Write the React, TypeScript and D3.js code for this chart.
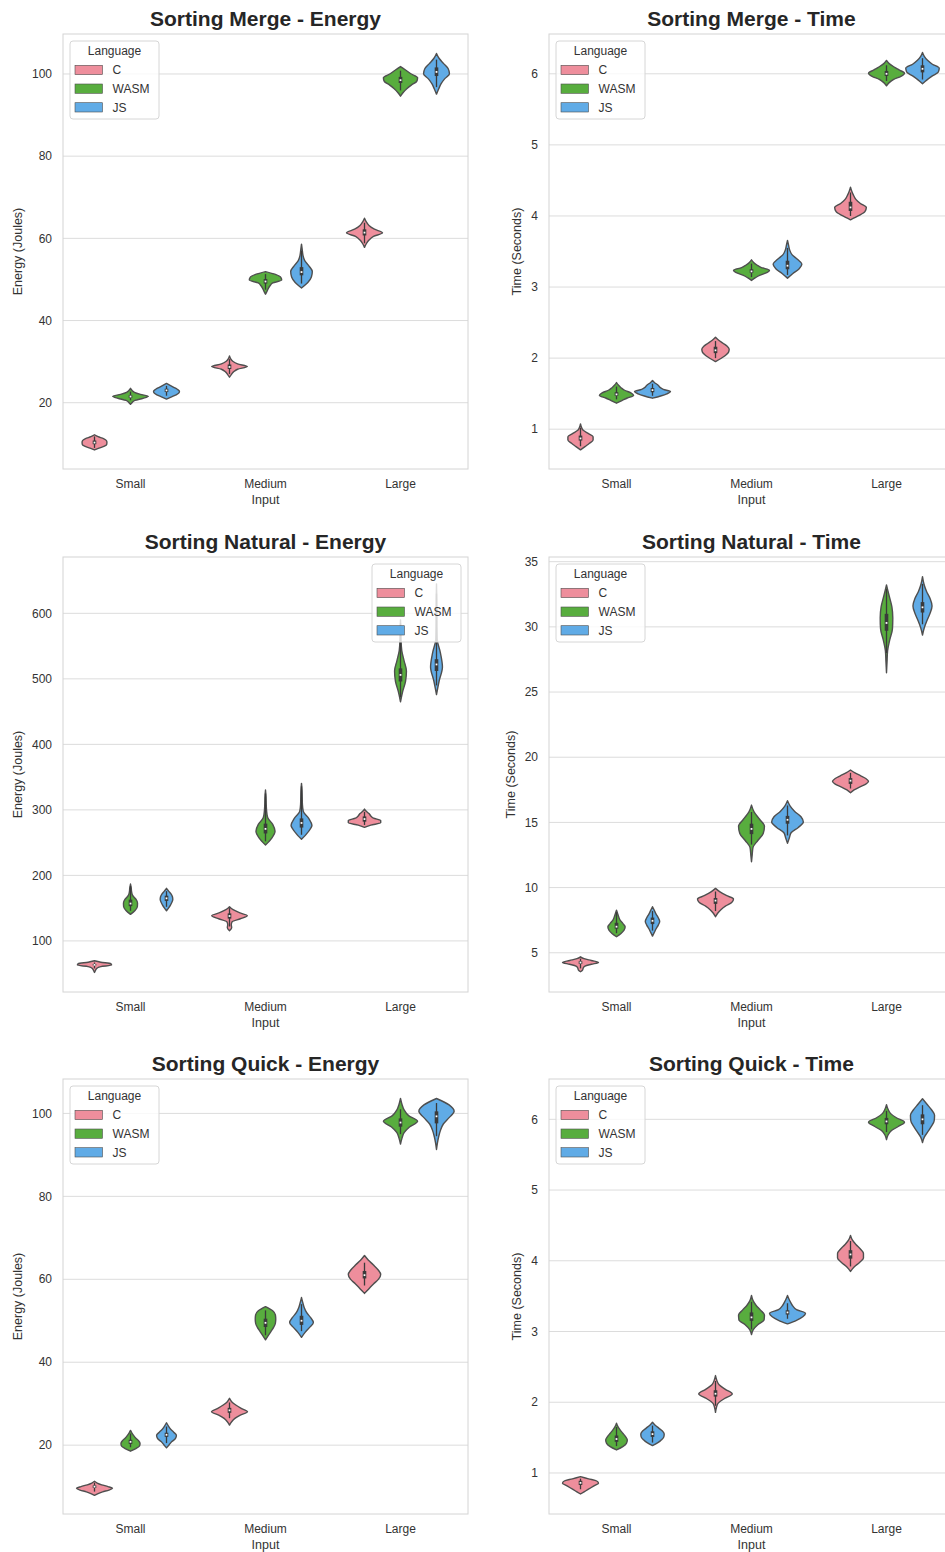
import React from "react";
import * as d3 from "d3";

type Violin = { input: string; lang: string; lo: number; hi: number; box: number[]; w: number[] };

const INPUTS = ["Small", "Medium", "Large"];
const LANGUAGES = ["C", "WASM", "JS"];
const COLORS: Record<string, string> = { C: "#ee8e9c", WASM: "#58ad3e", JS: "#60abe6" };

// box = [whisker low, q1, median, q3, whisker high]; w = relative half-widths, evenly spaced from lo to hi
const v = (input: string, lang: string, lo: number, hi: number, box: number[], w: number[]): Violin => ({ input, lang, lo, hi, box, w });

const mergeEnergy: Violin[] = [
  v("Small", "C", 8.5, 12.2, [9.0, 9.9, 10.3, 10.8, 11.8], [0, 0.25, 0.55, 0.68, 0.69, 0.66, 0.5, 0.2, 0]),
  v("Small", "WASM", 19.6, 23.5, [20.6, 21.2, 21.5, 21.8, 22.7], [0, 0.1, 0.25, 0.7, 0.99, 0.55, 0.22, 0.08, 0]),
  v("Small", "JS", 20.9, 24.7, [21.7, 22.6, 23.0, 23.4, 24.1], [0, 0.25, 0.5, 0.68, 0.72, 0.6, 0.4, 0.2, 0]),
  v("Medium", "C", 26.2, 31.4, [27.0, 28.2, 28.7, 29.3, 30.6], [0, 0.1, 0.22, 0.45, 0.99, 0.45, 0.18, 0.06, 0]),
  v("Medium", "WASM", 46.4, 51.9, [47.5, 49.0, 49.5, 50.1, 51.3], [0, 0.08, 0.15, 0.25, 0.4, 0.9, 0.85, 0.55, 0]),
  v("Medium", "JS", 47.9, 58.6, [49.0, 51.0, 51.8, 53.0, 57.0], [0, 0.35, 0.55, 0.6, 0.42, 0.18, 0.08, 0.04, 0]),
  v("Large", "C", 57.8, 64.9, [58.8, 60.7, 61.4, 62.2, 63.8], [0, 0.1, 0.25, 0.5, 1.0, 0.55, 0.25, 0.1, 0]),
  v("Large", "WASM", 94.6, 101.8, [96.0, 97.8, 98.5, 99.3, 100.8], [0, 0.15, 0.35, 0.6, 0.9, 0.95, 0.6, 0.3, 0]),
  v("Large", "JS", 95.1, 105.0, [96.8, 99.5, 100.5, 101.6, 103.5], [0, 0.12, 0.25, 0.45, 0.72, 0.65, 0.4, 0.15, 0]),
];

const mergeTime: Violin[] = [
  v("Small", "C", 0.71, 1.075, [0.76, 0.84, 0.87, 0.91, 1.02], [0, 0.25, 0.5, 0.7, 0.7, 0.45, 0.15, 0.05, 0]),
  v("Small", "WASM", 1.366, 1.657, [1.42, 1.47, 1.49, 1.52, 1.6], [0, 0.3, 0.6, 0.95, 0.8, 0.45, 0.25, 0.1, 0]),
  v("Small", "JS", 1.436, 1.685, [1.47, 1.52, 1.55, 1.58, 1.64], [0, 0.45, 0.8, 1.0, 0.6, 0.4, 0.3, 0.12, 0]),
  v("Medium", "C", 1.952, 2.295, [2.0, 2.07, 2.11, 2.16, 2.24], [0, 0.3, 0.55, 0.72, 0.76, 0.65, 0.42, 0.18, 0]),
  v("Medium", "WASM", 3.092, 3.383, [3.14, 3.2, 3.22, 3.25, 3.33], [0, 0.2, 0.45, 0.85, 1.0, 0.55, 0.3, 0.12, 0]),
  v("Medium", "JS", 3.125, 3.655, [3.17, 3.25, 3.3, 3.37, 3.55], [0, 0.3, 0.65, 0.8, 0.55, 0.25, 0.12, 0.06, 0]),
  v("Large", "C", 3.946, 4.405, [4.0, 4.07, 4.12, 4.2, 4.33], [0, 0.45, 0.8, 0.88, 0.55, 0.3, 0.17, 0.07, 0]),
  v("Large", "WASM", 5.831, 6.188, [5.9, 5.97, 6.0, 6.04, 6.12], [0, 0.15, 0.4, 0.8, 1.0, 0.7, 0.4, 0.15, 0]),
  v("Large", "JS", 5.86, 6.3, [5.92, 6.02, 6.07, 6.12, 6.22], [0, 0.25, 0.55, 0.88, 0.93, 0.55, 0.28, 0.1, 0]),
];

const naturalEnergy: Violin[] = [
  v("Small", "C", 51.9, 69.7, [58, 62.5, 63.5, 64.8, 67], [0, 0.04, 0.08, 0.15, 0.35, 0.95, 0.9, 0.35, 0]),
  v("Small", "WASM", 140.5, 186.8, [146, 153, 157, 163, 184], [0, 0.25, 0.38, 0.39, 0.3, 0.12, 0.06, 0.04, 0]),
  v("Small", "JS", 146.1, 180.2, [152, 161, 165, 169, 176], [0, 0.12, 0.22, 0.3, 0.35, 0.33, 0.25, 0.12, 0]),
  v("Medium", "C", 115.5, 152.2, [122, 134, 138, 142, 150], [0, 0.12, 0.1, 0.15, 0.6, 0.99, 0.55, 0.2, 0]),
  v("Medium", "WASM", 246.3, 330.3, [252, 264, 271, 279, 325], [0, 0.35, 0.53, 0.4, 0.12, 0.06, 0.04, 0.03, 0]),
  v("Medium", "JS", 255, 340.5, [262, 273, 280, 287, 336], [0, 0.35, 0.58, 0.4, 0.1, 0.05, 0.04, 0.03, 0]),
  v("Large", "C", 273.3, 301.3, [277, 282, 286, 290, 297], [0, 0.35, 0.9, 0.9, 0.5, 0.35, 0.25, 0.1, 0]),
  v("Large", "WASM", 465, 590, [472, 496, 506, 516, 585], [0, 0.12, 0.28, 0.33, 0.2, 0.07, 0.03, 0.02, 0]),
  v("Large", "JS", 476, 645, [490, 512, 522, 530, 630], [0, 0.15, 0.33, 0.22, 0.04, 0.025, 0.02, 0.015, 0]),
];

const naturalTime: Violin[] = [
  v("Small", "C", 3.54, 4.69, [3.8, 4.15, 4.25, 4.35, 4.55], [0, 0.12, 0.15, 0.25, 0.6, 1.0, 0.6, 0.2, 0]),
  v("Small", "WASM", 6.23, 8.27, [6.5, 6.85, 7.0, 7.3, 8.1], [0, 0.25, 0.42, 0.48, 0.35, 0.2, 0.12, 0.06, 0]),
  v("Small", "JS", 6.28, 8.53, [6.7, 7.2, 7.45, 7.7, 8.2], [0, 0.1, 0.2, 0.32, 0.4, 0.32, 0.2, 0.1, 0]),
  v("Medium", "C", 7.76, 9.94, [8.2, 8.75, 9.0, 9.2, 9.7], [0, 0.12, 0.3, 0.55, 0.9, 1.0, 0.6, 0.25, 0]),
  v("Medium", "WASM", 11.98, 16.33, [13.3, 14.1, 14.5, 14.9, 15.8], [0, 0.04, 0.08, 0.35, 0.65, 0.72, 0.45, 0.15, 0]),
  v("Medium", "JS", 13.39, 16.66, [14.0, 14.9, 15.2, 15.5, 16.3], [0, 0.1, 0.2, 0.6, 0.88, 0.75, 0.4, 0.15, 0]),
  v("Large", "C", 17.28, 19.02, [17.6, 17.95, 18.2, 18.4, 18.8], [0, 0.2, 0.5, 0.85, 1.0, 0.85, 0.55, 0.25, 0]),
  v("Large", "WASM", 26.48, 33.21, [28.0, 29.7, 30.3, 31.0, 32.9], [0, 0.03, 0.06, 0.18, 0.33, 0.35, 0.3, 0.15, 0]),
  v("Large", "JS", 29.37, 33.85, [30.2, 31.1, 31.5, 31.9, 33.3], [0, 0.1, 0.25, 0.42, 0.53, 0.42, 0.22, 0.08, 0]),
];

const quickEnergy: Violin[] = [
  v("Small", "C", 7.9, 11.29, [8.8, 9.7, 10.0, 10.3, 10.9], [0, 0.2, 0.45, 0.8, 1.0, 0.75, 0.4, 0.15, 0]),
  v("Small", "WASM", 18.55, 23.55, [19.5, 20.3, 20.8, 21.3, 22.8], [0, 0.3, 0.5, 0.53, 0.45, 0.3, 0.18, 0.08, 0]),
  v("Small", "JS", 19.35, 25.4, [20.5, 22.0, 22.5, 23.0, 24.5], [0, 0.15, 0.3, 0.5, 0.55, 0.4, 0.22, 0.1, 0]),
  v("Medium", "C", 24.84, 31.3, [26.5, 27.8, 28.4, 29.0, 30.3], [0, 0.12, 0.3, 0.6, 1.0, 0.65, 0.35, 0.12, 0]),
  v("Medium", "WASM", 45.4, 53.4, [46.5, 48.5, 49.5, 50.5, 52.5], [0, 0.15, 0.3, 0.45, 0.55, 0.57, 0.55, 0.4, 0]),
  v("Medium", "JS", 46.0, 55.6, [47.5, 49.0, 50.0, 51.2, 54.0], [0, 0.2, 0.45, 0.66, 0.5, 0.28, 0.15, 0.07, 0]),
  v("Large", "C", 56.6, 65.73, [58.5, 60.2, 61.0, 62.0, 64.0], [0, 0.25, 0.5, 0.78, 0.9, 0.75, 0.5, 0.22, 0]),
  v("Large", "WASM", 92.6, 103.6, [95.0, 96.8, 97.8, 98.8, 101.0], [0, 0.08, 0.2, 0.5, 0.95, 0.45, 0.2, 0.08, 0]),
  v("Large", "JS", 91.3, 103.6, [94.5, 97.6, 99.3, 100.5, 102.5], [0, 0.05, 0.12, 0.22, 0.38, 0.7, 0.98, 0.7, 0]),
];

const quickTime: Violin[] = [
  v("Small", "C", 0.703, 0.948, [0.77, 0.83, 0.86, 0.89, 0.92], [0, 0.2, 0.4, 0.6, 0.8, 1.0, 0.9, 0.45, 0]),
  v("Small", "WASM", 1.325, 1.703, [1.38, 1.44, 1.48, 1.53, 1.65], [0, 0.35, 0.55, 0.6, 0.5, 0.35, 0.2, 0.08, 0]),
  v("Small", "JS", 1.387, 1.717, [1.43, 1.51, 1.55, 1.59, 1.67], [0, 0.3, 0.5, 0.63, 0.65, 0.55, 0.35, 0.15, 0]),
  v("Medium", "C", 1.858, 2.377, [1.95, 2.08, 2.12, 2.17, 2.3], [0, 0.05, 0.15, 0.5, 0.93, 0.55, 0.2, 0.07, 0]),
  v("Medium", "WASM", 2.958, 3.509, [3.03, 3.15, 3.2, 3.27, 3.42], [0, 0.1, 0.35, 0.7, 0.72, 0.5, 0.25, 0.08, 0]),
  v("Medium", "JS", 3.108, 3.509, [3.18, 3.24, 3.27, 3.3, 3.4], [0, 0.5, 0.85, 1.0, 0.5, 0.3, 0.18, 0.08, 0]),
  v("Large", "C", 3.849, 4.358, [3.92, 4.03, 4.09, 4.15, 4.28], [0, 0.2, 0.5, 0.72, 0.72, 0.55, 0.3, 0.1, 0]),
  v("Large", "WASM", 5.712, 6.208, [5.82, 5.93, 5.97, 6.02, 6.12], [0, 0.08, 0.25, 0.65, 1.0, 0.55, 0.22, 0.08, 0]),
  v("Large", "JS", 5.67, 6.29, [5.78, 5.93, 6.0, 6.07, 6.2], [0, 0.1, 0.3, 0.5, 0.65, 0.67, 0.5, 0.25, 0]),
];

const ENERGY_TICKS = [20, 40, 60, 80, 100];
const TIME_TICKS = [1, 2, 3, 4, 5, 6];
const NAT_ENERGY_TICKS = [100, 200, 300, 400, 500, 600];
const NAT_TIME_TICKS = [5, 10, 15, 20, 25, 30, 35];

const PANELS = [
  { title: "Sorting Merge - Energy", yLabel: "Energy (Joules)", yDomain: [3.87, 109.73], yTicks: ENERGY_TICKS, legend: "left", data: mergeEnergy },
  { title: "Sorting Merge - Time", yLabel: "Time (Seconds)", yDomain: [0.44, 6.56], yTicks: TIME_TICKS, legend: "left", data: mergeTime },
  { title: "Sorting Natural - Energy", yLabel: "Energy (Joules)", yDomain: [22, 686], yTicks: NAT_ENERGY_TICKS, legend: "right", data: naturalEnergy },
  { title: "Sorting Natural - Time", yLabel: "Time (Seconds)", yDomain: [1.99, 35.36], yTicks: NAT_TIME_TICKS, legend: "left", data: naturalTime },
  { title: "Sorting Quick - Energy", yLabel: "Energy (Joules)", yDomain: [3.4, 108.3], yTicks: ENERGY_TICKS, legend: "left", data: quickEnergy },
  { title: "Sorting Quick - Time", yLabel: "Time (Seconds)", yDomain: [0.42, 6.57], yTicks: TIME_TICKS, legend: "left", data: quickTime },
];

const W = 945;
const H = 1552;
const COL_X = [63, 549];
const ROW_Y = [34, 557, 1079];
const PW = 405;
const PH = 435;
const FONT = "'Liberation Sans', Arial, Helvetica, sans-serif";
const EDGE = "#4f4f4f";
const BOX = "#3a3a3a";
const TEXT = "#333333";

function Panel({ p, idx }: { p: any; idx: number }) {
  const left = COL_X[idx % 2];
  const top = ROW_Y[Math.floor(idx / 2)];
  const right = left + PW;
  const bottom = top + PH;
  const x = d3.scaleBand<string>().domain(INPUTS).range([left, right]).padding(0);
  const bw = x.bandwidth();
  const hue = d3.scaleBand<string>().domain(LANGUAGES).range([-0.4 * bw, 0.4 * bw]);
  const maxHalf = hue.bandwidth() / 2;
  const y = d3.scaleLinear().domain(p.yDomain).range([bottom, top]);
  const area = d3
    .area<{ v: number; w: number }>()
    .y((d) => y(d.v))
    .x0((d) => 0 - d.w * maxHalf)
    .x1((d) => 0 + d.w * maxHalf)
    .curve(d3.curveMonotoneY);
  const maxLen = d3.max(p.yTicks as number[], (t) => String(t).length) as number;
  const yLabelX = left - (11 + maxLen * 6.7 + 10);
  const cx = (left + right) / 2;
  const lgW = 89;
  const lgH = 78;
  const lgX = p.legend === "right" ? right - 7 - lgW : left + 7;
  const lgY = top + 7;
  const clipId = `clip-${idx}`;
  return (
    <g>
      <defs>
        <clipPath id={clipId}>
          <rect x={left} y={top} width={PW} height={PH} />
        </clipPath>
      </defs>
      <rect x={left} y={top} width={PW} height={PH} fill="#ffffff" stroke="none" />
      {(p.yTicks as number[]).map((t) => (
        <line key={`g${t}`} x1={left} x2={right} y1={y(t)} y2={y(t)} stroke="#dcdcdc" strokeWidth={1} />
      ))}
      <rect x={left} y={top} width={PW} height={PH} fill="none" stroke="#d4d4d4" strokeWidth={1} />
      {(p.yTicks as number[]).map((t) => (
        <text key={`t${t}`} x={left - 11} y={y(t)} dy="0.35em" textAnchor="end" fontSize={12} fill={TEXT} fontFamily={FONT}>
          {t}
        </text>
      ))}
      {INPUTS.map((c) => (
        <text key={c} x={(x(c) as number) + bw / 2} y={bottom + 19} textAnchor="middle" fontSize={12} fill={TEXT} fontFamily={FONT}>
          {c}
        </text>
      ))}
      <text x={cx} y={bottom + 35} textAnchor="middle" fontSize={12.5} fill={TEXT} fontFamily={FONT}>
        Input
      </text>
      <text
        transform={`translate(${yLabelX},${(top + bottom) / 2}) rotate(-90)`}
        textAnchor="middle"
        fontSize={12.5}
        fill={TEXT}
        fontFamily={FONT}
      >
        {p.yLabel}
      </text>
      <text x={cx} y={top - 8} textAnchor="middle" fontSize={21} fontWeight="bold" fill="#262626" fontFamily={FONT}>
        {p.title}
      </text>
      <g clipPath={`url(#${clipId})`}>
        {(p.data as Violin[]).map((d, i) => {
          const vx = (x(d.input) as number) + bw / 2 + (hue(d.lang) as number) + hue.bandwidth() / 2;
          const n = d.w.length;
          const pts = d.w.map((w, k) => ({ v: d.lo + ((d.hi - d.lo) * k) / (n - 1), w })).reverse();
          const [wl, q1, med, q3, wh] = d.box;
          return (
            <g key={i} transform={`translate(${vx},0)`}>
              <path d={area(pts) as string} fill={COLORS[d.lang]} stroke={EDGE} strokeWidth={1.4} strokeLinejoin="round" />
              <line x1={0} x2={0} y1={y(wl)} y2={y(wh)} stroke={BOX} strokeWidth={1.3} />
              <line x1={0} x2={0} y1={y(q1)} y2={y(q3)} stroke={BOX} strokeWidth={3.6} />
              <rect x={-0.9} y={y(med) - 0.9} width={1.8} height={1.8} fill="#ffffff" />
            </g>
          );
        })}
      </g>
      <g>
        <rect x={lgX} y={lgY} width={lgW} height={lgH} rx={3} fill="#ffffff" fillOpacity={0.8} stroke="#d6d6d6" strokeWidth={1} />
        <text x={lgX + lgW / 2} y={lgY + 13.8} textAnchor="middle" fontSize={12} fill={TEXT} fontFamily={FONT}>
          Language
        </text>
        {LANGUAGES.map((l, i) => (
          <g key={l}>
            <rect x={lgX + 5} y={lgY + 24.3 + i * 18.7} width={27.5} height={9.3} fill={COLORS[l]} stroke={EDGE} strokeWidth={0.6} />
            <text x={lgX + 42.5} y={lgY + 24.3 + i * 18.7 + 8.8} fontSize={12} fill={TEXT} fontFamily={FONT}>
              {l}
            </text>
          </g>
        ))}
      </g>
    </g>
  );
}

export default function App() {
  return (
    <svg
      width={W}
      height={H}
      viewBox={`0 0 ${W} ${H}`}
      style={{ position: "absolute", left: 0, top: 0, background: "#ffffff", display: "block" }}
    >
      <rect x={0} y={0} width={W} height={H} fill="#ffffff" />
      {PANELS.map((p, i) => (
        <Panel key={i} p={p} idx={i} />
      ))}
    </svg>
  );
}
